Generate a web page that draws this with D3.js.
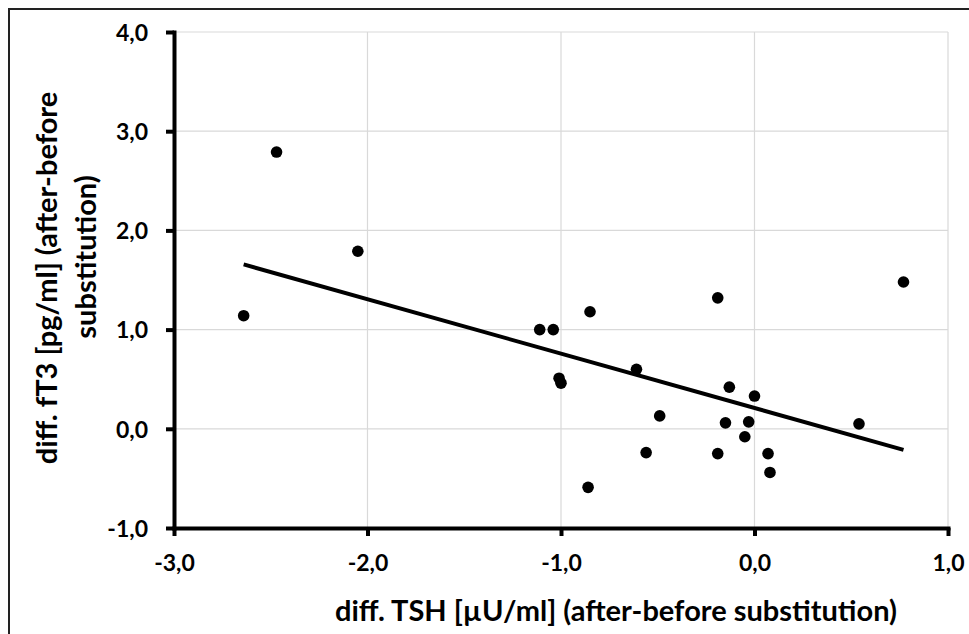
<!DOCTYPE html>
<html>
<head>
<meta charset="utf-8">
<script src="https://cdn.jsdelivr.net/npm/d3@7"></script>
<style>
  body { margin: 0; background: #fff; }
  text { font-family: Lato, "Open Sans", sans-serif; font-weight: bold; fill: #000; }
</style>
</head>
<body>
<div id="chart"></div>
<script>
// diff. TSH (x) and diff. fT3 (y)
const tshDiff = [-2.64, -2.47, -2.05, -1.11, -1.04, -0.85, -1.01, -1.00, -0.61, -0.49, -0.56, -0.86,
  -0.19, -0.13, 0.00, -0.15, -0.03, -0.05, -0.19, 0.07, 0.08, 0.77, 0.54];
const ft3Diff = [1.14, 2.79, 1.79, 1.00, 1.00, 1.18, 0.51, 0.46, 0.60, 0.13, -0.24, -0.59,
  1.32, 0.42, 0.33, 0.06, 0.07, -0.08, -0.25, -0.25, -0.44, 1.48, 0.05];
const xTicks = [-3, -2, -1, 0, 1];
const yTicks = [-1, 0, 1, 2, 3, 4];
const xTitle = "diff. TSH [µU/ml] (after-before substitution)";
const yTitle = ["diff. fT3 [pg/ml] (after-before", "substitution)"];

const width = 969, height = 634;
const margin = { top: 32, right: 21, bottom: 106, left: 174 };

const svg = d3.select("#chart").append("svg")
  .attr("width", width)
  .attr("height", height);

// outer frame, cut off at the right and bottom edges
svg.append("rect")
  .attr("x", 9).attr("y", 9)
  .attr("width", width).attr("height", height)
  .attr("fill", "none")
  .attr("stroke", "#222")
  .attr("stroke-width", 2);

const x = d3.scaleLinear().domain([-3, 1]).range([margin.left, width - margin.right]);
const y = d3.scaleLinear().domain([-1, 4]).range([height - margin.bottom, margin.top]);

const fmt = (d) => d3.format(".1f")(d).replace(".", ",").replace("−", "-");

// grid
svg.append("g").selectAll("line.vg").data(xTicks.slice(1)).enter().append("line")
  .attr("x1", (d) => x(d)).attr("x2", (d) => x(d))
  .attr("y1", y(4)).attr("y2", y(-1))
  .attr("stroke", "#d9d9d9").attr("stroke-width", 1.2);
svg.append("g").selectAll("line.hg").data(yTicks.slice(1)).enter().append("line")
  .attr("x1", x(-3)).attr("x2", x(1))
  .attr("y1", (d) => y(d)).attr("y2", (d) => y(d))
  .attr("stroke", "#d9d9d9").attr("stroke-width", 1.2);

// regression line
const n = tshDiff.length;
const mx = d3.mean(tshDiff), my = d3.mean(ft3Diff);
let sxy = 0, sxx = 0;
for (let i = 0; i < n; i++) {
  sxy += (tshDiff[i] - mx) * (ft3Diff[i] - my);
  sxx += (tshDiff[i] - mx) ** 2;
}
const slope = sxy / sxx;
const intercept = my - slope * mx;
const [xMin, xMax] = d3.extent(tshDiff);
svg.append("line")
  .attr("x1", x(xMin)).attr("y1", y(intercept + slope * xMin))
  .attr("x2", x(xMax)).attr("y2", y(intercept + slope * xMax))
  .attr("stroke", "#000").attr("stroke-width", 4);

// points
svg.append("g").selectAll("circle").data(d3.range(n)).enter().append("circle")
  .attr("cx", (i) => x(tshDiff[i]))
  .attr("cy", (i) => y(ft3Diff[i]))
  .attr("r", 5.8)
  .attr("fill", "#000");

// axes
const xAxis = svg.append("g")
  .attr("transform", `translate(0,${y(-1)})`)
  .call(d3.axisBottom(x).tickValues(xTicks).tickFormat(fmt).tickSize(8).tickSizeOuter(0));
const yAxis = svg.append("g")
  .attr("transform", `translate(${x(-3)},0)`)
  .call(d3.axisLeft(y).tickValues(yTicks).tickFormat(fmt).tickSize(8).tickSizeOuter(0));

[xAxis, yAxis].forEach((g) => {
  g.attr("font-family", null).attr("font-size", null);
  g.select(".domain").attr("stroke", "#000").attr("stroke-width", 4).attr("stroke-linecap", "square");
  g.selectAll(".tick line").attr("stroke", "#000").attr("stroke-width", 4);
  g.selectAll(".tick text").style("font-size", "23px").attr("fill", "#000");
});
xAxis.selectAll(".tick text").attr("y", 0).attr("dy", "1.85em");
yAxis.selectAll(".tick text").attr("x", -26).attr("dy", "0.36em");

// titles
svg.append("text")
  .attr("x", 616).attr("y", 621)
  .attr("text-anchor", "middle")
  .style("font-size", "29px")
  .text(xTitle);

svg.append("text")
  .attr("transform", "translate(57,278) rotate(-90)")
  .attr("text-anchor", "middle")
  .style("font-size", "29px")
  .text(yTitle[0]);
svg.append("text")
  .attr("transform", "translate(96,257) rotate(-90)")
  .attr("text-anchor", "middle")
  .style("font-size", "29px")
  .text(yTitle[1]);
</script>
</body>
</html>
